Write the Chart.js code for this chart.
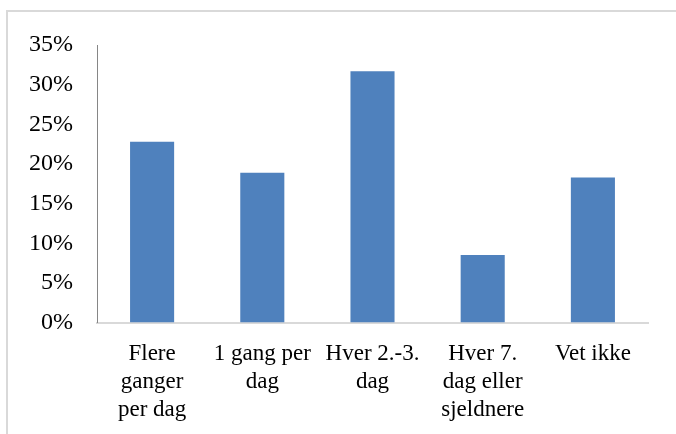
<!DOCTYPE html>
<html>
<head>
<meta charset="utf-8">
<script src="https://cdn.jsdelivr.net/npm/chart.js@4.4.1/dist/chart.umd.min.js"></script>
<style>
  html, body { margin: 0; padding: 0; background: #ffffff; }
  #wrap { position: relative; width: 676px; height: 434px; overflow: hidden; }
  #frame {
    position: absolute; left: 6px; top: 10px; width: 700px; height: 460px;
    border-top: 2px solid #d9d9d9; border-left: 2px solid #d9d9d9;
    box-sizing: border-box;
  }
  canvas { position: absolute; left: 0; top: 0; }
</style>
</head>
<body>
<div id="wrap">
  <div id="frame"></div>
  <canvas id="c" width="676" height="434"></canvas>
</div>
<script>
// Response categories (multi-line labels)
const categories = [
  ["Flere", "ganger", "per dag"],
  ["1 gang per", "dag"],
  ["Hver 2.-3.", "dag"],
  ["Hver 7.", "dag eller", "sjeldnere"],
  ["Vet ikke"]
];
// Share of respondents, in percent
const shares = [22.8, 18.9, 31.7, 8.5, 18.3];
// Value axis ticks
const yTicks = [0, 5, 10, 15, 20, 25, 30, 35];

const serif = "'Liberation Serif', 'Times New Roman', serif";

new Chart(document.getElementById('c'), {
  type: 'bar',
  data: {
    labels: categories,
    datasets: [{
      data: shares,
      backgroundColor: '#4f81bd',
      borderWidth: 0,
      categoryPercentage: 1.0,
      barPercentage: 0.4
    }]
  },
  options: {
    responsive: false,
    animation: false,
    devicePixelRatio: 1,
    layout: { padding: { top: 45, right: 28, bottom: 0, left: 0 } },
    plugins: { legend: { display: false }, tooltip: { enabled: false } },
    scales: {
      x: {
        grid: { display: false, drawTicks: false },
        border: { display: true, color: '#d9d9d9', width: 2 },
        ticks: {
          color: '#000000',
          font: { family: serif, size: 23, lineHeight: 1.2 },
          padding: 18,
          autoSkip: false,
          maxRotation: 0,
          minRotation: 0
        },
        afterFit(scale) { scale.height = 111.5; }
      },
      y: {
        min: 0,
        max: 35,
        afterBuildTicks(scale) { scale.ticks = yTicks.map(v => ({ value: v })); },
        grid: { display: false, drawTicks: false },
        border: { display: true, color: '#868686', width: 1 },
        ticks: {
          color: '#000000',
          font: { family: serif, size: 24 },
          padding: 24,
          callback: v => v + '%'
        },
        afterFit(scale) { scale.width = 97; }
      }
    }
  }
});
</script>
</body>
</html>
